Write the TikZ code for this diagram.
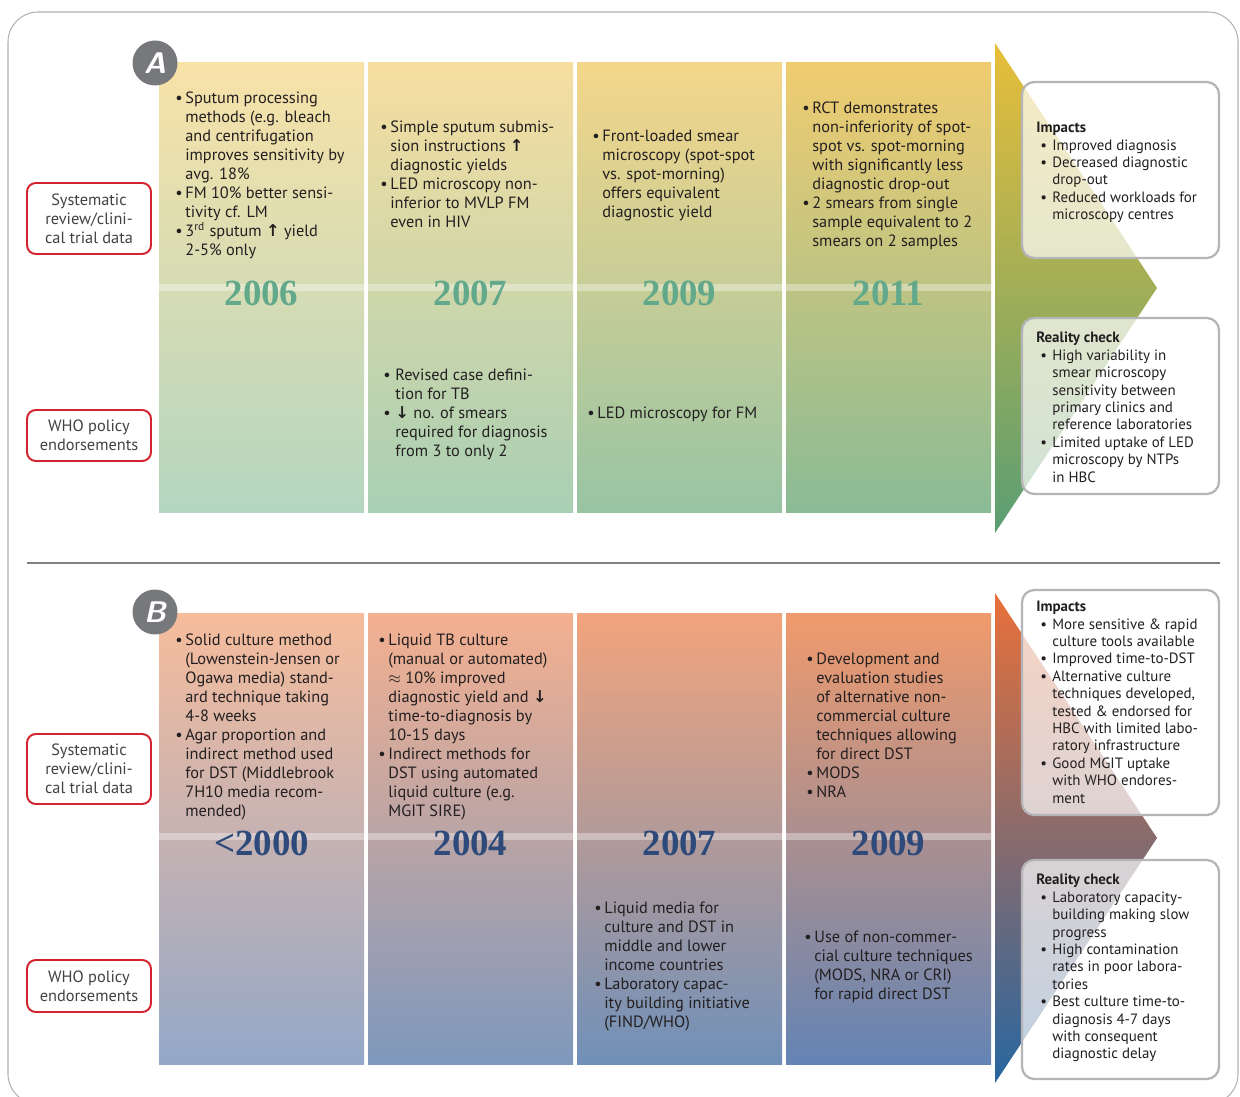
\documentclass[tikz,border=0pt]{standalone}
\usepackage{fontspec}
\usepackage{amsmath}
\usepackage{amssymb}
\setmainfont{PT Sans}
\newfontfamily\yearfont{Liberation Serif}
\newfontfamily\symfont{DejaVu Sans}

\definecolor{ink}{HTML}{231F20}
\definecolor{boxred}{HTML}{D2232E}
\definecolor{boxgrey}{HTML}{B5B5B9}
\definecolor{framegrey}{HTML}{B2B2B2}
\definecolor{circgrey}{HTML}{77787B}
\definecolor{yeargreen}{HTML}{62A88A}
\definecolor{yearblue}{HTML}{2D4A7A}

% bullet and hanging indent for the timeline columns
\newcommand{\bu}{\makebox[0.2cm][l]{\textbullet}}
\newcommand{\cu}{\hspace*{0.2cm}}
% bullet and hanging indent for the side boxes
\newcommand{\bi}{\hspace*{0.08cm}\makebox[0.24cm][l]{\textbullet}}
\newcommand{\ci}{\hspace*{0.32cm}}
\newcommand{\up}{{\symfont\bfseries ↑}}
\newcommand{\down}{{\symfont\bfseries ↓}}

\begin{document}
\begin{tikzpicture}[x=0.02cm,y=-0.02cm]
\tikzstyle{txt}=[anchor=north west, inner sep=0pt, align=left, text=ink, font=\fontsize{9.3}{10.8}\selectfont]
\tikzstyle{small}=[anchor=north west, inner sep=0pt, align=left, text=ink, font=\fontsize{8.5}{9.9}\selectfont]
\tikzstyle{redbox}=[draw=boxred, line width=1.1pt, rounded corners=5pt, fill=white, minimum width=2.48cm, align=center, text=ink!85, font=\fontsize{9.3}{10.8}\selectfont]
\tikzstyle{sidebox}=[draw=boxgrey, line width=1.3pt, rounded corners=7pt, fill=white, fill opacity=0.7]
\tikzstyle{yearA}=[font=\yearfont\bfseries\fontsize{21}{21}\selectfont, text=yeargreen]
\tikzstyle{yearB}=[font=\yearfont\bfseries\fontsize{21}{21}\selectfont, text=yearblue]
\tikzstyle{letter}=[circle, fill=circgrey, minimum size=0.9cm, inner sep=0pt, text=white, font=\sffamily\bfseries\itshape\fontsize{17}{17}\selectfont]

\useasboundingbox (0,0) rectangle (1240,1097);

% frame and divider
\draw [framegrey, line width=0.6pt, rounded corners=0.6cm] (8,12) rectangle (1238,1104);
\draw [black!50, line width=1pt] (27,563) -- (1220,563);

%%% panel A: smear microscopy
\shade [top color={rgb,255:red,248;green,226;blue,168}, bottom color={rgb,255:red,180;green,214;blue,192}] (159,63) rectangle (364,513);
\shade [top color={rgb,255:red,246;green,222;blue,160}, bottom color={rgb,255:red,168;green,207;blue,180}] (368,63) rectangle (573,513);
\shade [top color={rgb,255:red,244;green,214;blue,138}, bottom color={rgb,255:red,152;green,196;blue,164}] (577,63) rectangle (782,513);
\shade [top color={rgb,255:red,240;green,204;blue,112}, bottom color={rgb,255:red,138;green,187;blue,150}] (786,63) rectangle (991,513);
\fill [white, opacity=0.35] (159,284) rectangle (991,291);
\shade [top color={rgb,255:red,232;green,190;blue,58}, middle color={rgb,255:red,176;green,176;blue,96}, bottom color={rgb,255:red,90;green,158;blue,116}] (995,43) -- (1157,288) -- (995,533) -- cycle;

\node [letter] (lblA) at (155,63) {A};

\node [redbox, minimum height=1.42cm] (sysA) at (89,218.5) {Systematic\\review/clini-\\cal trial data};
\node [redbox, minimum height=1.02cm] (whoA) at (89,435.5) {WHO policy\\endorsements};

\node [txt] (colA1) at (175,92) {\bu Sputum processing\\\cu methods (e.g. bleach\\\cu and centrifugation\\\cu improves sensitivity by\\\cu avg. 18\%\\\bu FM 10\% better sensi-\\\cu tivity cf. LM\\\bu 3\textsuperscript{rd} sputum \up\ yield\\\cu 2-5\% only};
\node [txt] (colA2) at (380,121) {\bu Simple sputum submis-\\\cu sion instructions \up\\\cu diagnostic yields\\\bu LED microscopy non-\\\cu inferior to MVLP FM\\\cu even in HIV};
\node [txt] (colA3) at (592,130) {\bu Front-loaded smear\\\cu microscopy (spot-spot\\\cu vs. spot-morning)\\\cu offers equivalent\\\cu diagnostic yield};
\node [txt] (colA4) at (802,102) {\bu RCT demonstrates\\\cu non-inferiority of spot-\\\cu spot vs. spot-morning\\\cu with significantly less\\\cu diagnostic drop-out\\\bu 2 smears from single\\\cu sample equivalent to 2\\\cu smears on 2 samples};

\node [yearA] (y2006) at (261.5,293) {2006};
\node [yearA] (y2007) at (470.5,293) {2007};
\node [yearA] (y2009) at (679.5,293) {2009};
\node [yearA] (y2011) at (888.5,293) {2011};

\node [txt] (whoA2) at (383,369) {\makebox[0.24cm][l]{\textbullet}Revised case defini-\\\hspace*{0.24cm}tion for TB\\\makebox[0.24cm][l]{\textbullet}\down\ no. of smears\\\hspace*{0.24cm}required for diagnosis\\\hspace*{0.24cm}from 3 to only 2};
\node [txt] (whoA3) at (587,407) {\bu LED microscopy for FM};

\draw [sidebox] (1022,82) rectangle (1219,258);
\draw [sidebox] (1022,318) rectangle (1219,494);
\node [small] (impA) at (1036,122) {\textbf{Impacts}\\\bi Improved diagnosis\\\bi Decreased diagnostic\\\ci drop-out\\\bi Reduced workloads for\\\ci microscopy centres};
\node [small] (realA) at (1036,332) {\textbf{Reality check}\\\bi High variability in\\\ci smear microscopy\\\ci sensitivity between\\\ci primary clinics and\\\ci reference laboratories\\\bi Limited uptake of LED\\\ci microscopy by NTPs\\\ci in HBC};

%%% panel B: culture
\shade [top color={rgb,255:red,246;green,188;blue,156}, middle color={rgb,255:red,200;green,176;blue,176}, bottom color={rgb,255:red,148;green,168;blue,200}] (159,613) rectangle (364,1064);
\shade [top color={rgb,255:red,244;green,176;blue,144}, middle color={rgb,255:red,186;green,162;blue,168}, bottom color={rgb,255:red,126;green,152;blue,188}] (368,613) rectangle (573,1064);
\shade [top color={rgb,255:red,242;green,164;blue,124}, middle color={rgb,255:red,178;green,160;blue,172}, bottom color={rgb,255:red,112;green,144;blue,184}] (577,613) rectangle (782,1064);
\shade [top color={rgb,255:red,240;green,154;blue,108}, middle color={rgb,255:red,168;green,154;blue,168}, bottom color={rgb,255:red,100;green,132;blue,180}] (786,613) rectangle (991,1064);
\fill [white, opacity=0.35] (159,833) rectangle (991,840);
\shade [top color={rgb,255:red,232;green,112;blue,58}, middle color={rgb,255:red,138;green,102;blue,112}, bottom color={rgb,255:red,40;green,102;blue,160}] (995,593) -- (1157,838) -- (995,1083) -- cycle;

\node [letter] (lblB) at (155,612) {B};

\node [redbox, minimum height=1.4cm] (sysB) at (89,769) {Systematic\\review/clini-\\cal trial data};
\node [redbox, minimum height=1.04cm] (whoB) at (89,986) {WHO policy\\endorsements};

\node [txt] (colB1) at (175,634) {\bu Solid culture method\\\cu (Lowenstein-Jensen or\\\cu Ogawa media) stand-\\\cu ard technique taking\\\cu 4-8 weeks\\\bu Agar proportion and\\\cu indirect method used\\\cu for DST (Middlebrook\\\cu 7H10 media recom-\\\cu mended)};
\node [txt] (colB2) at (378,634) {\bu Liquid TB culture\\\cu (manual or automated)\\\cu $\approx$ 10\% improved\\\cu diagnostic yield and \down\\\cu time-to-diagnosis by\\\cu 10-15 days\\\bu Indirect methods for\\\cu DST using automated\\\cu liquid culture (e.g.\\\cu MGIT SIRE)};
\node [txt] (colB4) at (806,653) {\bu Development and\\\cu evaluation studies\\\cu of alternative non-\\\cu commercial culture\\\cu techniques allowing\\\cu for direct DST\\\bu MODS\\\bu NRA};

\node [yearB] (y2000) at (261.5,843) {<2000};
\node [yearB] (y2004) at (470.5,843) {2004};
\node [yearB] (y2007b) at (679.5,843) {2007};
\node [yearB] (y2009b) at (888.5,843) {2009};

\node [txt] (whoB3) at (594,902) {\bu Liquid media for\\\cu culture and DST in\\\cu middle and lower\\\cu income countries\\\bu Laboratory capac-\\\cu ity building initiative\\\cu (FIND/WHO)};
\node [txt] (whoB4) at (804,931) {\bu Use of non-commer-\\\cu cial culture techniques\\\cu (MODS, NRA or CRI)\\\cu for rapid direct DST};

\draw [sidebox] (1022,590) rectangle (1219,815);
\draw [sidebox] (1022,860) rectangle (1219,1079);
\node [small] (impB) at (1036,601) {\textbf{Impacts}\\\bi More sensitive \& rapid\\\ci culture tools available\\\bi Improved time-to-DST\\\bi Alternative culture\\\ci techniques developed,\\\ci tested \& endorsed for\\\ci HBC with limited labo-\\\ci ratory infrastructure\\\bi Good MGIT uptake\\\ci with WHO endores-\\\ci ment};
\node [small] (realB) at (1036,874) {\textbf{Reality check}\\\bi Laboratory capacity-\\\ci building making slow\\\ci progress\\\bi High contamination\\\ci rates in poor labora-\\\ci tories\\\bi Best culture time-to-\\\ci diagnosis 4-7 days\\\ci with consequent\\\ci diagnostic delay};
\end{tikzpicture}
\end{document}
